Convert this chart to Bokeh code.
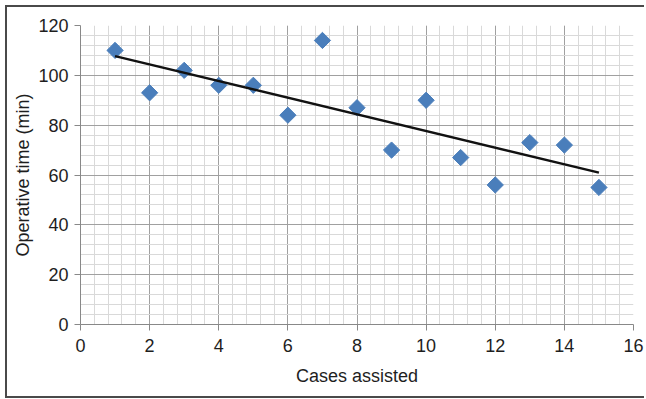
import numpy as np
from bokeh.plotting import figure
from bokeh.models import FixedTicker, Range1d
from bokeh.embed import file_html
from bokeh.resources import INLINE

cases = [1, 2, 3, 4, 5, 6, 7, 8, 9, 10, 11, 12, 13, 14, 15]
op_time = [110, 93, 102, 96, 96, 84, 114, 87, 70, 90, 67, 56, 73, 72, 55]
x_ticks = [0, 2, 4, 6, 8, 10, 12, 14, 16]
y_ticks = [0, 20, 40, 60, 80, 100, 120]

x_minor = [round(i * 0.4, 2) for i in range(0, 41)]
y_minor = [i * 4 for i in range(0, 31)]

FONT = "Liberation Sans"
BC = "#4a4a4a"
bg = ", ".join([
    f"linear-gradient({BC},{BC}) 5px 5px / 2px 393px no-repeat",
    f"linear-gradient({BC},{BC}) 5px 5px / 639px 2px no-repeat",
    f"linear-gradient({BC},{BC}) 5px 396px / 639px 2px no-repeat",
    "white",
])

p = figure(width=646, height=399, output_backend="svg", toolbar_location=None,
           x_range=Range1d(0, 16), y_range=Range1d(0, 120),
           min_border_left=80, min_border_right=13, min_border_top=25, min_border_bottom=75,
           styles={"background": bg})
p.outline_line_color = None
p.background_fill_color = "white"
p.border_fill_color = None
p.border_fill_alpha = 0

p.xaxis.ticker = FixedTicker(ticks=x_ticks, minor_ticks=x_minor)
p.yaxis.ticker = FixedTicker(ticks=y_ticks, minor_ticks=y_minor)
p.xgrid.ticker = FixedTicker(ticks=x_ticks, minor_ticks=x_minor)
p.ygrid.ticker = FixedTicker(ticks=y_ticks, minor_ticks=y_minor)

for g in (p.xgrid, p.ygrid):
    g.grid_line_color = "#a0a0a0"
    g.grid_line_width = 1
    g.minor_grid_line_color = "#d9d9d9"
    g.minor_grid_line_width = 1

for ax in (p.xaxis, p.yaxis):
    ax.axis_line_color = "#888888"
    ax.axis_line_width = 1
    ax.major_tick_line_color = "#888888"
    ax.major_tick_out = 6
    ax.major_tick_in = 0
    ax.minor_tick_line_color = None
    ax.major_label_text_font = FONT
    ax.major_label_text_font_size = "18px"
    ax.major_label_text_color = "#1e1e1e"
    ax.axis_label_text_font = FONT
    ax.axis_label_text_font_size = "18px"
    ax.axis_label_text_font_style = "normal"
    ax.axis_label_text_color = "#1e1e1e"

p.xaxis.axis_label = "Cases assisted"
p.yaxis.axis_label = "Operative time (min)"
p.xaxis.major_label_standoff = 8
p.yaxis.major_label_standoff = 6
p.xaxis.axis_label_standoff = 11
p.yaxis.axis_label_standoff = 2

# linear trend line (least squares)
xa = np.array(cases, dtype=float)
ya = np.array(op_time, dtype=float)
slope, intercept = np.polyfit(xa, ya, 1)
tx = [xa.min(), xa.max()]
ty = [slope * v + intercept for v in tx]

p.scatter(cases, op_time, marker="square", angle=np.pi / 4, size=11.5,
          fill_color="#4a7ebb", line_color="#4a7ebb")
p.line(tx, ty, line_color="#111111", line_width=2.5)

open("out.html", "w").write(file_html(p, INLINE))
